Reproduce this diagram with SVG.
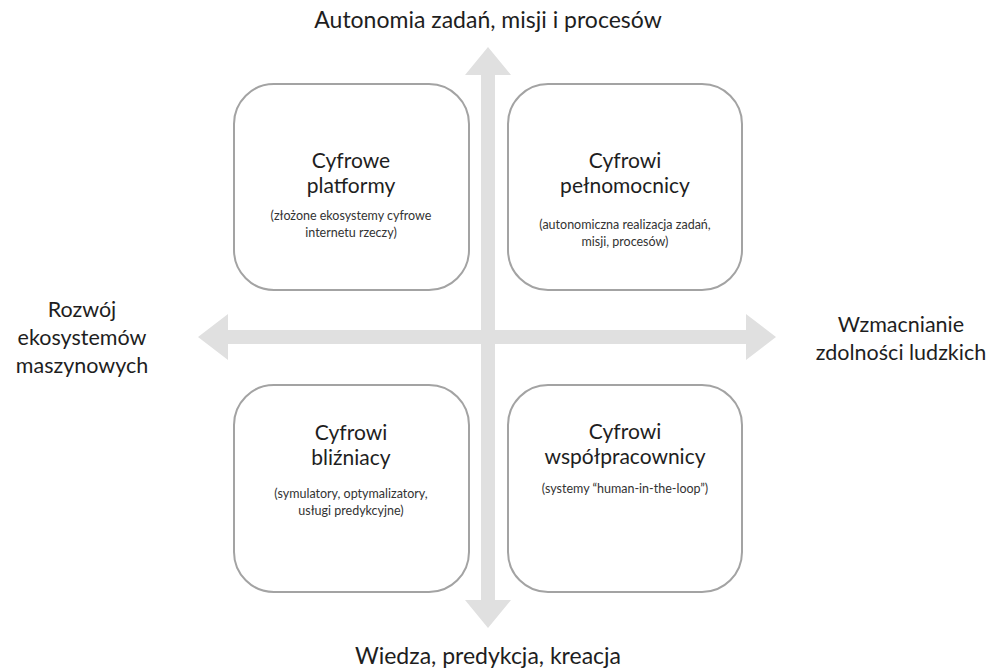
<svg xmlns="http://www.w3.org/2000/svg" width="991" height="671" viewBox="0 0 991 671">
<style>
.box{fill:#ffffff;stroke:#a3a3a3;stroke-width:2}
.axis{fill:#e0e0e0;stroke:none}
text{font-family:Lato,"Open Sans","Liberation Sans",sans-serif;fill:#1e1e1e;text-anchor:middle}
.ax{font-size:23px}
.sd{font-size:21.5px}
.ttl{font-size:21px}
.sub{font-size:12.5px;fill:#333}
</style>
<rect width="991" height="671" fill="#ffffff"/>
<g id="connectors">
<polygon class="axis" points="488,47 511,75 495,75 495,600 511,600 488,628 465,600 481,600 481,75 465,75"/>
<polygon class="axis" points="198,337 228,314 228,330 746,330 746,314 776,337 746,360 746,344 228,344 228,360"/>
</g>
<g id="label-top"><text class="ax" x="488" y="28">Autonomia zadań, misji i procesów</text></g>
<g id="label-bottom"><text class="ax" x="488" y="664">Wiedza, predykcja, kreacja</text></g>
<g id="label-left"><text class="sd" x="82" y="317">Rozwój</text><text class="sd" x="82" y="345">ekosystemów</text><text class="sd" x="82" y="373">maszynowych</text></g>
<g id="label-right"><text class="sd" x="901" y="332">Wzmacnianie</text><text class="sd" x="901" y="360">zdolności ludzkich</text></g>
<g id="node-tl">
<rect class="box" x="234" y="84" width="235" height="206" rx="40"/>
<text class="ttl" x="351" y="168">Cyfrowe</text>
<text class="ttl" x="351" y="193">platformy</text>
<text class="sub" x="351" y="220">(złożone ekosystemy cyfrowe</text>
<text class="sub" x="351" y="237">internetu rzeczy)</text>
</g>
<g id="node-tr">
<rect class="box" x="508" y="84" width="234" height="206" rx="40"/>
<text class="ttl" x="625" y="168">Cyfrowi</text>
<text class="ttl" x="625" y="193">pełnomocnicy</text>
<text class="sub" x="625" y="229">(autonomiczna realizacja zadań,</text>
<text class="sub" x="625" y="246">misji, procesów)</text>
</g>
<g id="node-bl">
<rect class="box" x="234" y="385" width="235" height="207" rx="40"/>
<text class="ttl" x="351" y="440">Cyfrowi</text>
<text class="ttl" x="351" y="465">bliźniacy</text>
<text class="sub" x="351" y="498">(symulatory, optymalizatory,</text>
<text class="sub" x="351" y="515">usługi predykcyjne)</text>
</g>
<g id="node-br">
<rect class="box" x="508" y="385" width="234" height="207" rx="40"/>
<text class="ttl" x="625" y="439">Cyfrowi</text>
<text class="ttl" x="625" y="464">współpracownicy</text>
<text class="sub" x="625" y="493">(systemy “human-in-the-loop”)</text>
</g>
</svg>
